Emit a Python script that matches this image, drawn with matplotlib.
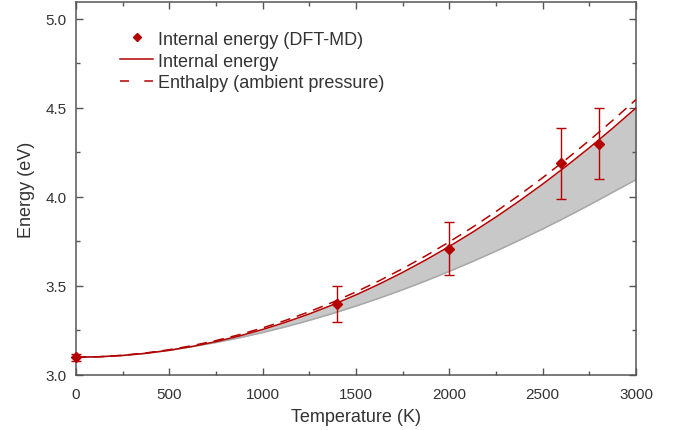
import matplotlib
matplotlib.use("Agg")
import matplotlib.pyplot as plt
from matplotlib.lines import Line2D

# ---- data ----
temperature = [0, 125, 250, 375, 500, 625, 750, 875, 1000, 1125, 1250, 1375, 1500,
               1625, 1750, 1875, 2000, 2125, 2250, 2375, 2500, 2625, 2750, 2875, 3000]
internal_energy = [3.1000, 3.1024, 3.1097, 3.1219, 3.1389, 3.1608, 3.1875, 3.2191, 3.2556,
                   3.2969, 3.3431, 3.3941, 3.4500, 3.5108, 3.5764, 3.6469, 3.7222, 3.8024,
                   3.8875, 3.9774, 4.0722, 4.1719, 4.2764, 4.3858, 4.5000]
enthalpy = [3.1000, 3.1028, 3.1108, 3.1240, 3.1421, 3.1653, 3.1934, 3.2265, 3.2646,
            3.3077, 3.3557, 3.4087, 3.4666, 3.5295, 3.5973, 3.6701, 3.7478, 3.8304,
            3.9180, 4.0105, 4.1080, 4.2104, 4.3176, 4.4299, 4.5470]
band_lower = [3.1000, 3.1022, 3.1095, 3.1217, 3.1385, 3.1594, 3.1825, 3.2088, 3.2384,
              3.2711, 3.3069, 3.3455, 3.3872, 3.4317, 3.4790, 3.5291, 3.5820, 3.6376,
              3.6958, 3.7568, 3.8202, 3.8864, 3.9550, 4.0262, 4.0970]

md_temperature = [0, 1400, 2000, 2600, 2800]
md_energy = [3.10, 3.40, 3.71, 4.19, 4.30]
md_error = [0.02, 0.10, 0.15, 0.20, 0.20]

x_ticks = [0, 500, 1000, 1500, 2000, 2500, 3000]
y_ticks = [3.0, 3.5, 4.0, 4.5, 5.0]

RED = "#b40000"
GRAY_FILL = "#c8c8c8"
GRAY_EDGE = "#a8a8a8"
SPINE = "#555555"
TXT = "#333333"

plt.rcParams['font.family'] = ['Liberation Sans', 'DejaVu Sans']

fig = plt.figure(figsize=(6.79, 4.31), dpi=100)
ax = fig.add_axes([76/679, 55/431, 560/679, 373/431])

ax.fill_between(temperature, band_lower, internal_energy, color=GRAY_FILL, lw=0, zorder=1)
ax.plot(temperature, band_lower, color=GRAY_EDGE, lw=1.1, zorder=2)

ax.plot(temperature, internal_energy, color=RED, lw=1.1, zorder=3)
lw_d = 1.1
ax.plot(temperature, enthalpy, color=RED, lw=lw_d, zorder=3,
        dashes=[7.5/lw_d, 5.0/lw_d])

ax.errorbar(md_temperature, md_energy, yerr=md_error, fmt='D', color=RED,
            ms=5, elinewidth=1.0, capsize=3.5, capthick=1.0, zorder=4, clip_on=False)

ax.set_xlim(0, 3000)
ax.set_ylim(3.0, 5.095)
ax.set_xticks(x_ticks)
ax.set_yticks(y_ticks)
ax.set_yticklabels([f"{v:.1f}" for v in y_ticks])
ax.set_xticks([250 + 500*i for i in range(6)], minor=True)
ax.set_yticks([3.25, 3.75, 4.25, 4.75], minor=True)

for s in ax.spines.values():
    s.set_color(SPINE)
    s.set_linewidth(1.1)
ax.tick_params(which='both', direction='in', top=True, right=True, color=SPINE,
               width=1.0, labelcolor=TXT, labelsize=11)
ax.tick_params(which='major', length=5)
ax.tick_params(which='minor', length=3)
ax.tick_params(axis='x', which='both', pad=8.5)
ax.tick_params(axis='y', which='both', pad=7)

ax.set_xlabel("Temperature (K)", fontsize=13, color=TXT, labelpad=5)
ax.set_ylabel("Energy (eV)", fontsize=13, color=TXT, labelpad=7)

handles = [
    Line2D([], [], color=RED, marker='D', ls='none', ms=4.5),
    Line2D([], [], color=RED, lw=1.1),
    Line2D([], [], color=RED, lw=lw_d, dashes=[6.5/lw_d, 11/lw_d]),
]
labels = ["Internal energy (DFT-MD)", "Internal energy", "Enthalpy (ambient pressure)"]
leg = ax.legend(handles, labels, loc='upper left', bbox_to_anchor=(0.06, 0.952),
                frameon=False, fontsize=13, handlelength=1.8, handletextpad=0.3,
                labelspacing=0.27, borderaxespad=0.2)
for t in leg.get_texts():
    t.set_color(TXT)

fig.savefig("out.png", dpi=100)
